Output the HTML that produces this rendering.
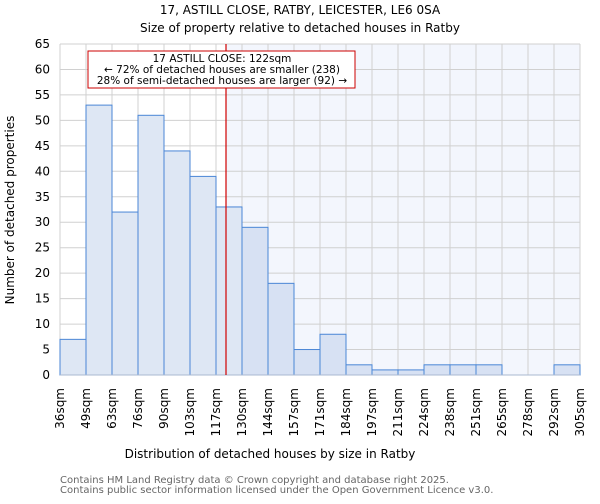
<!DOCTYPE html>
<html><head><meta charset="utf-8"><style>
body{margin:0;background:#fff;font-family:"DejaVu Sans","Liberation Sans",sans-serif}
svg text{font-family:"DejaVu Sans","Liberation Sans",sans-serif}
</style></head><body>
<svg id="c" width="600" height="500" xmlns="http://www.w3.org/2000/svg">
<text x="300" y="14" text-anchor="middle" font-size="12">17, ASTILL CLOSE, RATBY, LEICESTER, LE6 0SA</text>
<text x="300" y="32" text-anchor="middle" font-size="12">Size of property relative to detached houses in Ratby</text>
<g id="plot"></g>
<text x="270" y="458" text-anchor="middle" font-size="12">Distribution of detached houses by size in Ratby</text>
<text x="14" y="210" text-anchor="middle" font-size="12" transform="rotate(-90 14 210)">Number of detached properties</text>
<text x="60" y="483" font-size="10" fill="#666">Contains HM Land Registry data © Crown copyright and database right 2025.</text>
<text x="60" y="493" font-size="10" fill="#666">Contains public sector information licensed under the Open Government Licence v3.0.</text>
</svg>
<script>
const labels=["36sqm","49sqm","63sqm","76sqm","90sqm","103sqm","117sqm","130sqm","144sqm","157sqm","171sqm","184sqm","197sqm","211sqm","224sqm","238sqm","251sqm","265sqm","278sqm","292sqm","305sqm"];
const edges=[36,49,63,76,90,103,117,130,144,157,171,184,197,211,224,238,251,265,278,292,305];
const counts=[7,53,32,51,44,39,33,29,18,5,8,2,1,1,2,2,2,0,0,2];
const yTicks=[0,5,10,15,20,25,30,35,40,45,50,55,60,65];
const marker=122;
const NS="http://www.w3.org/2000/svg";
const X0=60,X1=580,Y0=375,Y1=44,YMAX=65;
const n=counts.length,bw=(X1-X0)/n;
function xi(i){return X0+i*bw;}
function xv(v){let i=0;while(i<n-1&&v>edges[i+1])i++;return xi(i)+bw*(v-edges[i])/(edges[i+1]-edges[i]);}
function y(v){return Y0-(Y0-Y1)*v/YMAX;}
const g=document.getElementById('plot');
function mk(t,a,p){const e=document.createElementNS(NS,t);for(const k in a)e.setAttribute(k,a[k]);(p||g).appendChild(e);return e;}
const mx=xv(marker);
let bg=mk('rect',{x:mx,y:Y1,width:X1-mx,height:Y0-Y1,fill:'#f3f6fd'});


yTicks.forEach(t=>{
 let l=mk('line',{x1:X0,x2:X1,y1:y(t),y2:y(t),stroke:'#d0d0d0'});
 
 
 let tx=mk('text',{x:X0-10,y:y(t)+4,'text-anchor':'end','font-size':12});
 tx.textContent=t;
 
 
});
labels.forEach((s,i)=>{
 let l=mk('line',{x1:xi(i),x2:xi(i),y1:Y1,y2:Y0,stroke:'#d0d0d0'});
 
 
 let tx=mk('text',{x:0,y:0,'text-anchor':'end','font-size':12,transform:`translate(${xi(i)+4},${Y0+13}) rotate(-90)`});
 tx.textContent=s;
 
 
});
counts.forEach((c,i)=>{
 if(c<=0)return;
 const right=xi(i)>=mx;
 let r=mk('rect',{x:xi(i),y:y(c),width:bw,height:Y0-y(c),fill:right?'#d7e1f3':'#dee7f4',stroke:'#4a86d6','stroke-width':1});
 
 
});
let ax=mk('line',{x1:X0,x2:X1,y1:Y0,y2:Y0,stroke:'#aab8d0'});


let ml=mk('line',{x1:mx,x2:mx,y1:Y1,y2:Y0,stroke:'#d00000','stroke-width':1.2});


let ann=mk('g',{});


mk('rect',{x:88,y:51,width:267,height:37,fill:'#fff',stroke:'#cc0000'},ann);
[["17 ASTILL CLOSE: 122sqm",62],["← 72% of detached houses are smaller (238)",73],["28% of semi-detached houses are larger (92) →",84]].forEach(([s,yy])=>{
 let t=mk('text',{x:222,y:yy,'text-anchor':'middle','font-size':10.5},ann);
 t.textContent=s;
 
 
});
</script>
</body></html>
